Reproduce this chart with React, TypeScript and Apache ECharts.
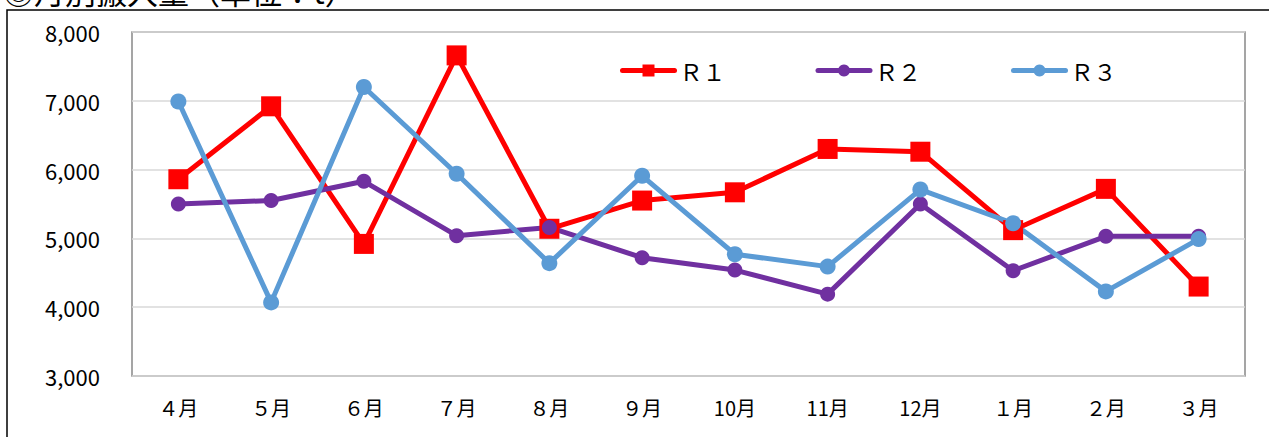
import React, { useEffect, useRef } from "react";
import * as echarts from "echarts";

const title = "◎月別搬入量（単位：t）";
const months = ["４月", "５月", "６月", "７月", "８月", "９月", "10月", "11月", "12月", "１月", "２月", "３月"];
const seriesNames = ["Ｒ１", "Ｒ２", "Ｒ３"];
const r1 = [5860, 6920, 4920, 7660, 5140, 5550, 5670, 6300, 6260, 5120, 5720, 4300];
const r2 = [5500, 5550, 5830, 5040, 5160, 4720, 4540, 4190, 5500, 4530, 5030, 5030];
const r3 = [6990, 4070, 7200, 5940, 4640, 5910, 4770, 4590, 5710, 5220, 4230, 4990];
const yMin = 3000;
const yMax = 8000;
const yStep = 1000;

const FONT = "'Noto Sans CJK JP', 'Noto Sans', sans-serif";

export default function App() {
  const ref = useRef<HTMLDivElement>(null);
  useEffect(() => {
    if (!ref.current) return;
    const chart = echarts.init(ref.current, null, { renderer: "svg" });
    const mk = (name: string, data: number[], color: string, symbol: string, size: number) => ({
      name,
      type: "line",
      data,
      symbol,
      symbolSize: size,
      lineStyle: { color, width: 5 },
      itemStyle: { color },
      emphasis: { disabled: true },
    });
    chart.setOption({
      animation: false,
      backgroundColor: "#ffffff",
      textStyle: { fontFamily: FONT },
      graphic: [
        {
          type: "rect",
          shape: { x: 7, y: 10, width: 1400, height: 600 },
          style: { fill: "none", stroke: "#000", lineWidth: 1.5 },
          silent: true,
        },
        {
          type: "text",
          x: 3,
          y: -25,
          style: { text: title, fontSize: 31, fontFamily: FONT, fill: "#000" },
          silent: true,
        },
      ],
      legend: {
        left: 615,
        top: 54,
        itemWidth: 52,
        itemHeight: 15,
        itemGap: 90,
        lineStyle: { width: 5, cap: "round" },
        textStyle: { fontSize: 23, color: "#000", fontFamily: FONT },
        data: seriesNames,
      },
      grid: {
        left: 132,
        right: 24,
        top: 32,
        bottom: 61,
        show: true,
        borderColor: "#888",
        borderWidth: 1.5,
        containLabel: false,
      },
      xAxis: {
        type: "category",
        data: months,
        boundaryGap: true,
        axisLine: { show: false },
        axisTick: { show: false },
        axisLabel: { fontSize: 20, color: "#000", margin: 21, fontFamily: FONT },
      },
      yAxis: {
        type: "value",
        min: yMin,
        max: yMax,
        interval: yStep,
        axisLine: { show: false },
        axisTick: { show: false },
        splitLine: { lineStyle: { color: "#d9d9d9", width: 1.5 } },
        axisLabel: {
          fontSize: 22,
          color: "#000",
          margin: 32,
          fontFamily: FONT,
          formatter: (v: number) => v.toLocaleString("en-US"),
        },
      },
      series: [
        mk(seriesNames[0], r1, "#ff0000", "rect", 20),
        mk(seriesNames[1], r2, "#7030a0", "circle", 15),
        mk(seriesNames[2], r3, "#5b9bd5", "circle", 16),
      ],
    });
    return () => chart.dispose();
  }, []);
  return (
    <div
      ref={ref}
      style={{ position: "absolute", left: 0, top: 0, width: 1269, height: 437 }}
    />
  );
}
